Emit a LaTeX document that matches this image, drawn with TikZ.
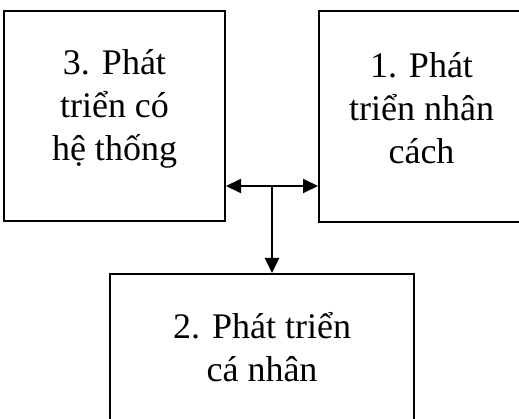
\documentclass[tikz,border=0pt]{standalone}
\usepackage{fontspec}
\setmainfont{Liberation Serif}
\usetikzlibrary{arrows.meta}
\begin{document}
\begin{tikzpicture}[x=1pt,y=-1pt,
  boxnode/.style={draw=black,line width=2pt,inner sep=0pt},
  labelnode/.style={inner sep=0pt,align=center,font=\fontsize{36}{43}\selectfont},
  link/.style={line width=2pt,-{Triangle[length=15pt,width=14pt]}},
  link2/.style={line width=2pt,{Triangle[length=15pt,width=14pt]}-{Triangle[length=15pt,width=14pt]}}]
\useasboundingbox (0,0) rectangle (519,419);
\node[boxnode,minimum width=221pt,minimum height=210.5pt] (L) at (114.5,116.25) {};
\node[boxnode,minimum width=205pt,minimum height=211pt] (R) at (421.5,116.5) {};
\node[boxnode,minimum width=304pt,minimum height=152pt] (B) at (262,350) {};
\node[labelnode] (Lt) at (114.5,108.5) {3. Phát\\triển có\\hệ thống};
\node[labelnode] (Rt) at (421.5,108.5) {1. Phát\\triển nhân\\cách};
\node[labelnode] (Bt) at (262,347) {2. Phát triển\\cá nhân};
\coordinate (J) at (272,186);
\draw[link2] (J -| L.east) -- (J -| R.west);
\draw[link] (J) -- (J |- B.north);
\end{tikzpicture}
\end{document}
